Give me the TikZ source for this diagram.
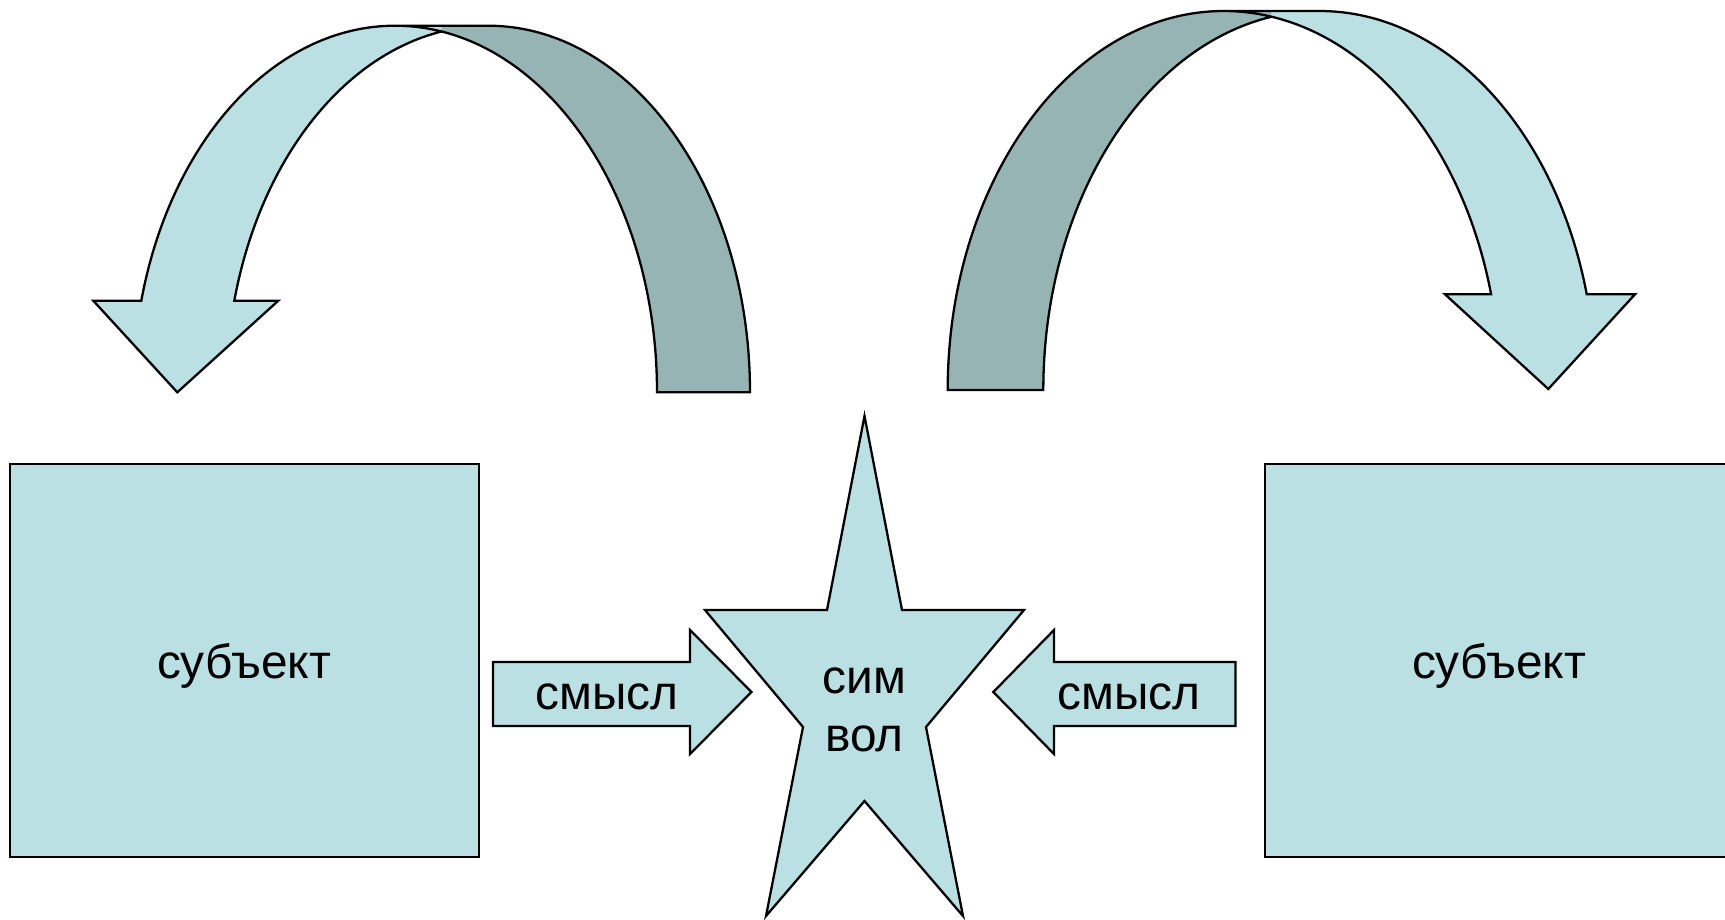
\documentclass[tikz,border=0pt]{standalone}
\usepackage{fontspec}
\setmainfont{Liberation Sans}
\definecolor{smteal}{RGB}{187,224,227}
\definecolor{smshade}{RGB}{151,180,181}
\usetikzlibrary{positioning}

\begin{document}
\begin{tikzpicture}[x=0.1mm, y=-0.1mm, line width=0.65pt,
  every node/.style={font=\fontsize{13.6}{16.5}\selectfont, inner sep=0pt, anchor=base},
  front/.style={fill=smteal},
  back/.style={fill=smshade},
  edge/.style={draw=black, line join=miter},
  leftarc/.style={x radius=262, y radius=366.6},
  rightarc/.style={x radius=276.2, y radius=379}]
\useasboundingbox (0,0) rectangle (1725,919);
\clip (0,0) rectangle (1725,919);
% Subject boxes
\filldraw[front, edge] (10,464) rectangle (479,857);
\filldraw[front, edge] (1265,464) rectangle (1740,857);
\node (subjL) at (244,678.3) {субъект};
\node (subjR) at (1499,678.3) {субъект};
% Left curved arrow
\fill[front] (141.3,300.7) arc[leftarc, start angle=194.47, end angle=270] -- (441.5,25.7) -- (441.5,31.5)
  arc[leftarc, start angle=259.78, end angle=194.47] -- (278.3,300.7) -- (177.3,392.3) -- (93.3,300.7) -- cycle;
\fill[back] (441.5,25.7) -- (488,25.7) arc[leftarc, start angle=270, end angle=360] -- (657,392.3)
  arc[leftarc, start angle=360, end angle=280.22] -- cycle;
\draw[edge] (441.5,31.5) arc[leftarc, start angle=259.78, end angle=194.47] -- (278.3,300.7) -- (177.3,392.3)
  -- (93.3,300.7) -- (141.3,300.7) arc[leftarc, start angle=194.47, end angle=270] -- (488,25.7)
  arc[leftarc, start angle=270, end angle=360] -- (657,392.3) arc[leftarc, start angle=360, end angle=270];
% Right curved arrow
\fill[back] (947.7,390) arc[rightarc, start angle=180, end angle=270] -- (1271.7,11) -- (1271.7,16.7)
  arc[rightarc, start angle=260.03, end angle=180] -- cycle;
\fill[front] (1271.7,11) -- (1319.5,11) arc[rightarc, start angle=270, end angle=345.37] -- (1635,294.3)
  -- (1548.3,389) -- (1445,294.3) -- (1491.1,294.3) arc[rightarc, start angle=345.37, end angle=279.97] -- cycle;
\draw[edge] (1271.7,16.7) arc[rightarc, start angle=260.03, end angle=180] -- (947.7,390)
  arc[rightarc, start angle=180, end angle=270] -- (1319.5,11) arc[rightarc, start angle=270, end angle=345.37]
  -- (1635,294.3) -- (1548.3,389) -- (1445,294.3) -- (1491.1,294.3) arc[rightarc, start angle=345.37, end angle=270];
% Symbol star
\filldraw[front, edge] (864.5,416) -- (902,610) -- (1024,610) -- (926,727) -- (963,916) -- (864.5,801)
  -- (766,916) -- (803,727) -- (705,610) -- (827,610) -- cycle;
\node (symtop) at (864.5,693.3) {сим};
\node (symbot) at (864.5,751) {вол};
% Sense arrows
\filldraw[front, edge] (493,662) -- (690,662) -- (690,630) -- (751.5,692) -- (690,754) -- (690,726) -- (493,726) -- cycle;
\filldraw[front, edge] (1235.5,662) -- (1054,662) -- (1054,630) -- (993.3,692) -- (1054,754) -- (1054,726) -- (1235.5,726) -- cycle;
\node (senseL) at (607,709) {смысл};
\node (senseR) at (1129,709) {смысл};
\end{tikzpicture}
\end{document}
